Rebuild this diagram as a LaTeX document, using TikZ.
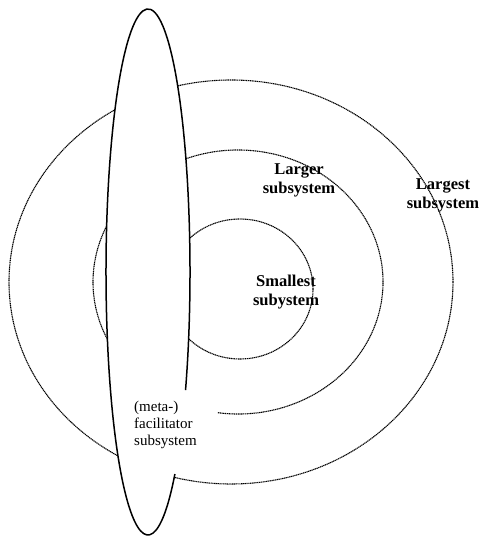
\documentclass[tikz,border=0pt]{standalone}
\usepackage{fontspec}
\setmainfont{Liberation Serif}
\begin{document}
\begin{tikzpicture}[x=1pt,y=1pt,
  ring/.style={line width=1.1pt, dash pattern=on 1.2pt off 0.6pt},
  outline/.style={line width=1.5pt},
  lbl/.style={font=\fontsize{16.5}{19}\selectfont\bfseries, align=center, inner sep=0pt},
  mlbl/.style={font=\fontsize{15}{17}\selectfont, align=left, inner sep=0pt, anchor=west}]
\useasboundingbox (0,0) rectangle (479,537);
% rings
\draw[ring] (231,255) ellipse[x radius=222, y radius=202];
\draw[ring] (238,255) ++(-98:145 and 132) arc[start angle=-98, end angle=245, x radius=145, y radius=132];
\draw[ring] (240,248) ellipse[x radius=73, y radius=70];
% facilitator subsystem
\fill[white] (148,265) ellipse[x radius=42, y radius=263];
\draw[outline] (148,265) ++(-26.7:42 and 263) arc[start angle=-26.7, end angle=309.8, x radius=42, y radius=263];
% labels
\node[lbl] (larger) at (299,357) {Larger\\subsystem};
\node[lbl] (largest) at (443,342) {Largest\\subsystem};
\node[lbl] (smallest) at (286,245) {Smallest\\subystem};
\node[mlbl] (meta) at (134,112) {(meta-)\\facilitator\\subsystem};
\end{tikzpicture}
\end{document}
